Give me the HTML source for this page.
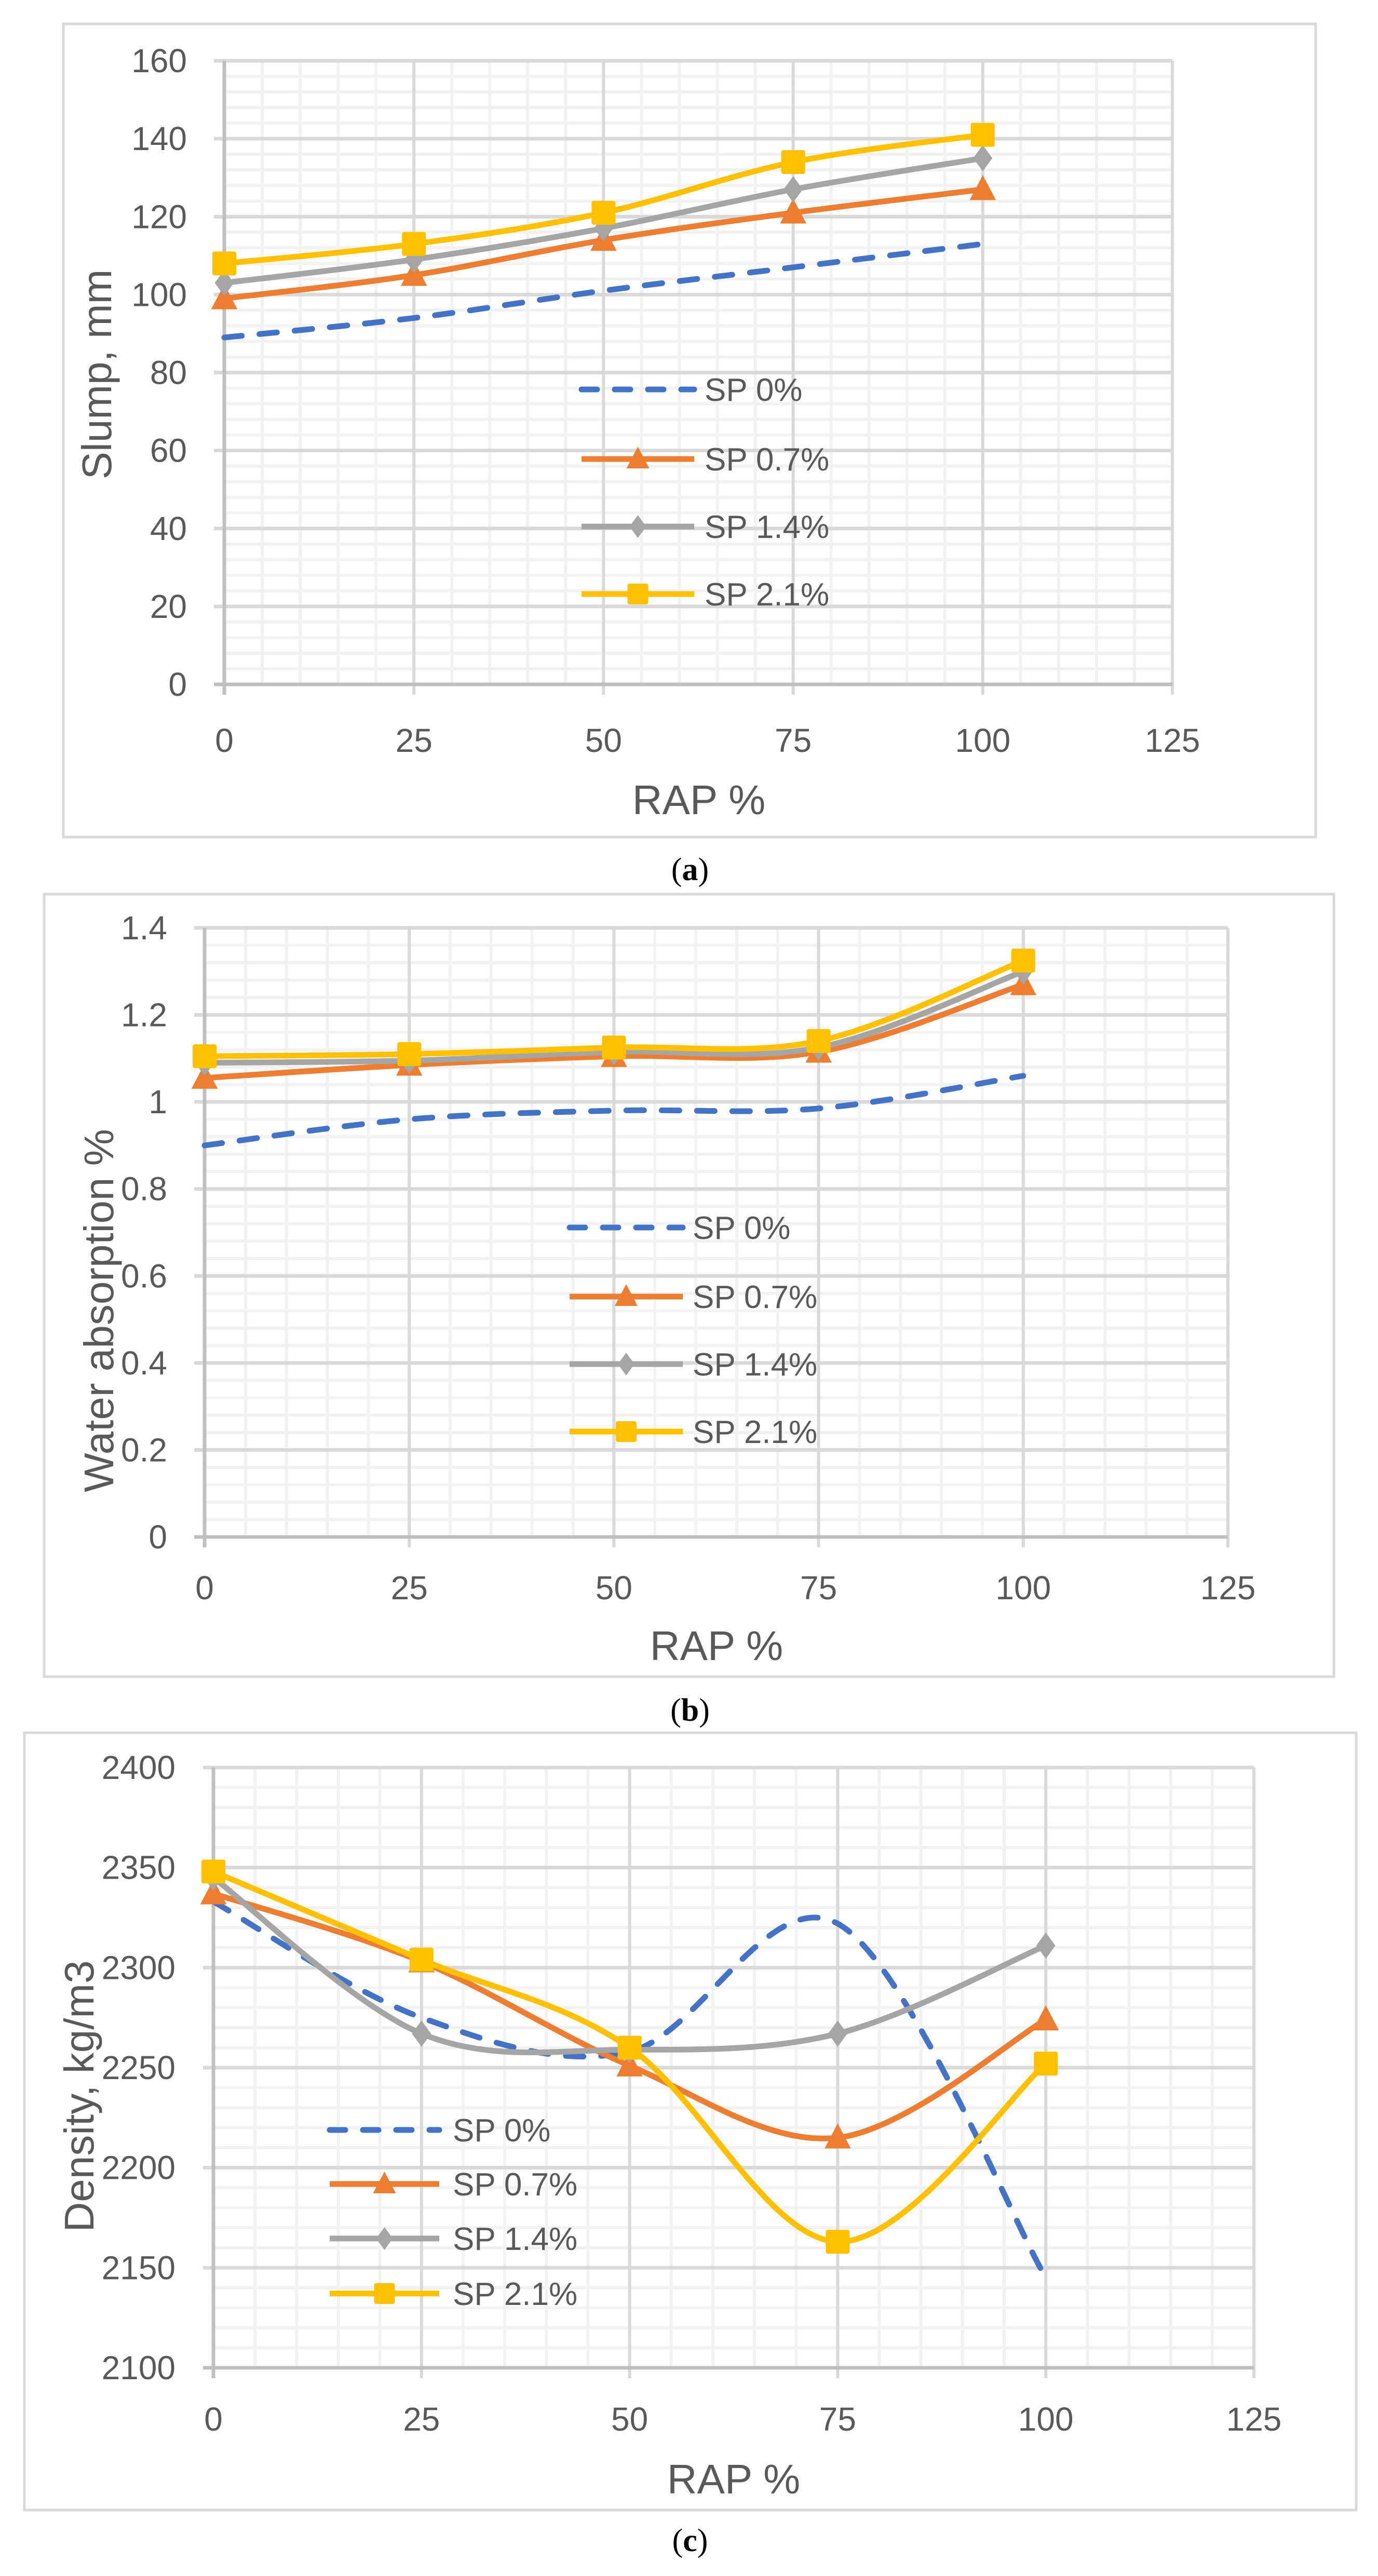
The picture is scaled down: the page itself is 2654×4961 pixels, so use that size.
<!DOCTYPE html>
<html><head><meta charset="utf-8">
<style>
html,body{margin:0;padding:0;background:#fff;}
body{width:2654px;height:4961px;position:relative;overflow:hidden;}
svg{position:absolute;left:0;top:0;}
text{font-family:"Liberation Sans",sans-serif;fill:#595959;}
.cap{font-family:"Liberation Serif",serif;fill:#000;font-size:62px;}
</style></head>
<body>
<svg id="fig" width="2654" height="4961" viewBox="0 0 2654 4961"></svg>
<script>
// ---- data ----
const rapCategories = [0, 25, 50, 75, 100];
const xTickLabels = ["0","25","50","75","100","125"];
const seriesNames = ["SP 0%","SP 0.7%","SP 1.4%","SP 2.1%"];

const slumpSP0  = [89, 94, 101, 107, 113];
const slumpSP07 = [99, 105, 114, 121, 127];
const slumpSP14 = [103, 109, 117, 127, 135];
const slumpSP21 = [108, 113, 121, 134, 141];
const slumpTicks = ["0","20","40","60","80","100","120","140","160"];

const waterSP0  = [0.90, 0.96, 0.98, 0.985, 1.06];
const waterSP07 = [1.055, 1.085, 1.105, 1.115, 1.27];
const waterSP14 = [1.09, 1.095, 1.115, 1.125, 1.30];
const waterSP21 = [1.105, 1.11, 1.125, 1.14, 1.325];
const waterTicks = ["0","0.2","0.4","0.6","0.8","1","1.2","1.4"];

const densSP0  = [2333, 2275, 2258, 2322, 2145];
const densSP07 = [2337, 2303, 2251, 2215, 2274];
const densSP14 = [2345, 2267, 2259, 2267, 2311];
const densSP21 = [2348, 2304, 2260, 2163, 2252];
const densTicks = ["2100","2150","2200","2250","2300","2350","2400"];

const NS = "http://www.w3.org/2000/svg";
const svg = document.getElementById('fig');
const colors = ["#4472C4","#ED7D31","#A5A5A5","#FFC000"];
const markers = [null,"tri","dia","sq"];

function mk(tag, attrs, parent){
  const e = document.createElementNS(NS, tag);
  for (const k in attrs) e.setAttribute(k, attrs[k]);
  (parent||svg).appendChild(e);
  return e;
}
function smoothPath(pts){
  let d = "M"+pts[0][0]+","+pts[0][1];
  for (let i=0;i<pts.length-1;i++){
    const p0=pts[i-1]||pts[i], p1=pts[i], p2=pts[i+1], p3=pts[i+2]||p2;
    const t=1/6;
    const c1=[p1[0]+(p2[0]-p0[0])*t, p1[1]+(p2[1]-p0[1])*t];
    const c2=[p2[0]-(p3[0]-p1[0])*t, p2[1]-(p3[1]-p1[1])*t];
    d+=" C"+c1[0]+","+c1[1]+" "+c2[0]+","+c2[1]+" "+p2[0]+","+p2[1];
  }
  return d;
}
function marker(g, type, x, y, col, s){
  let e;
  if (type==="sq") e = mk('rect',{x:x-s/2,y:y-s/2,width:s,height:s,rx:4,fill:col},g);
  else if (type==="tri") e = mk('polygon',{points:(x)+","+(y-s*0.6)+" "+(x+s*0.55)+","+(y+s*0.45)+" "+(x-s*0.55)+","+(y+s*0.45),fill:col},g);
  else if (type==="dia") e = mk('polygon',{points:x+","+(y-s*0.55)+" "+(x+s*0.4)+","+y+" "+x+","+(y+s*0.55)+" "+(x-s*0.4)+","+y,fill:col},g);
  return e;
}

function chart(cfg){
  const g = mk('g',{});
  
  
  const fr = mk('rect',{x:cfg.frame[0],y:cfg.frame[1],width:cfg.frame[2]-cfg.frame[0],height:cfg.frame[3]-cfg.frame[1],fill:"#fff",stroke:"#d9d9d9","stroke-width":5},g);
  
  
  const L=cfg.px0, R=cfg.px1, T=cfg.pyTop, B=cfg.pyBot;
  const xs = v => L + (v-0)/(125-0)*(R-L);
  const ys = v => B - (v-cfg.ymin)/(cfg.ymax-cfg.ymin)*(B-T);
  const nMaj = cfg.yTicks.length-1;
  const grid = mk('g',{},g);
  
  
  // minor
  for (let i=0;i<=nMaj*5;i++){ if(i%5) { const y=B-(B-T)*i/(nMaj*5); mk('line',{x1:L,x2:R,y1:y,y2:y,stroke:"#f2f2f2","stroke-width":6},grid);} }
  for (let v=5; v<125; v+=5){ if(v%25){ mk('line',{x1:xs(v),x2:xs(v),y1:T,y2:B,stroke:"#f2f2f2","stroke-width":6},grid);} }
  // major
  for (let i=1;i<=nMaj;i++){ const y=B-(B-T)*i/nMaj; mk('line',{x1:L-20,x2:R,y1:y,y2:y,stroke:"#d9d9d9","stroke-width":7},grid); }
  for (let i=1;i<xTickLabels.length;i++){ const x=xs(+xTickLabels[i]); mk('line',{x1:x,x2:x,y1:T,y2:B+20,stroke:"#d9d9d9","stroke-width":6},grid); }
  // axes
  mk('line',{x1:L,x2:L,y1:T,y2:B+20,stroke:"#bfbfbf","stroke-width":7},g);
  mk('line',{x1:L-20,x2:R,y1:B,y2:B,stroke:"#bfbfbf","stroke-width":7},g);
  // tick labels
  cfg.yTicks.forEach((t,i)=>{
    const e=mk('text',{x:cfg.yLabelRight,y:B-(B-T)*i/nMaj+22,"font-size":64,"text-anchor":"end"},g);
    e.textContent=t;
    
    
  });
  xTickLabels.forEach(t=>{
    const e=mk('text',{x:xs(+t),y:cfg.xLabelY+22,"font-size":64,"text-anchor":"middle"},g);
    e.textContent=t;
    
    
  });
  const xt=mk('text',{x:cfg.xTitle[0],y:cfg.xTitle[1]+28,"font-size":80,"text-anchor":"middle"},g);
  xt.textContent="RAP %";
  
  
  const yt=mk('text',{x:0,y:0,"font-size":80,"text-anchor":"middle",transform:"translate("+(cfg.yTitle[0]+28)+","+cfg.yTitle[1]+") rotate(-90)"},g);
  yt.textContent=cfg.yTitleText;
  
  
  // series
  cfg.series.forEach((vals,si)=>{
    const sg=mk('g',{},g);
    
    
    const pts=vals.map((v,i)=>[xs(rapCategories[i]), ys(v)]);
    const p=mk('path',{d:smoothPath(pts),fill:"none",stroke:colors[si],"stroke-width":11,"stroke-linecap":si===0?"round":"butt","stroke-linejoin":"round"},sg);
    if(si===0){ p.setAttribute('stroke-dasharray','34 34'); if(cfg.dashOffset) p.setAttribute('stroke-dashoffset',0); }
    if(markers[si]) pts.forEach(pt=>{
      const m=marker(sg,markers[si],pt[0],pt[1],colors[si],46);
      
      
    });
  });
  // legend
  const lg=mk('g',{},g);
  
  
  cfg.legendY.forEach((y,si)=>{
    const x1=cfg.legendX[0], x2=cfg.legendX[1];
    const ln=mk('line',{x1:x1,x2:x2,y1:y,y2:y,stroke:colors[si],"stroke-width":11,"stroke-linecap":si===0?"round":"butt"},lg);
    if(si===0) ln.setAttribute('stroke-dasharray','30 34');
    if(markers[si]) marker(lg,markers[si],(x1+x2)/2,y,colors[si],40);
    const t=mk('text',{x:cfg.legendX[2],y:y+22,"font-size":62},lg);
    t.textContent=seriesNames[si];
    
    
  });
  const c=mk('text',{x:cfg.caption[0],y:cfg.caption[1]+20,"text-anchor":"middle",class:"cap"},g);
  c.innerHTML='(<tspan font-weight="bold">'+cfg.capLetter+'</tspan>)';
  
  
}

chart({name:"chart-slump",frame:[122,46,2534,1612],px0:432,px1:2258,pyTop:117,pyBot:1318,
  ymin:0,ymax:160,yTicks:slumpTicks,yLabelRight:360,xLabelY:1426,xTitle:[1346,1540],
  yTitle:[186,721],yTitleText:"Slump, mm",series:[slumpSP0,slumpSP07,slumpSP14,slumpSP21],
  legendX:[1120,1337,1357],legendY:[750,884,1014,1144],caption:[1329,1675],capLetter:"a"});

chart({name:"chart-water-absorption",frame:[85,1722,2569,3229],px0:394,px1:2365,pyTop:1787,pyBot:2960,
  ymin:0,ymax:1.4,yTicks:waterTicks,yLabelRight:322,xLabelY:3058,xTitle:[1380,3169],
  yTitle:[190,2524],yTitleText:"Water absorption %",series:[waterSP0,waterSP07,waterSP14,waterSP21],
  legendX:[1097,1315,1334],legendY:[2364,2497,2627,2757],caption:[1329,3294],capLetter:"b"});

chart({name:"chart-density",frame:[47,3337,2612,4834],px0:411,px1:2415,pyTop:3404,pyBot:4560,
  ymin:2100,ymax:2400,yTicks:densTicks,yLabelRight:338,xLabelY:4659,xTitle:[1413,4774],
  yTitle:[152,4037],yTitleText:"Density, kg/m3",series:[densSP0,densSP07,densSP14,densSP21],
  legendX:[635,846,872],legendY:[4102,4206,4311,4417],caption:[1329,4893],capLetter:"c"});
</script>
</body></html>
